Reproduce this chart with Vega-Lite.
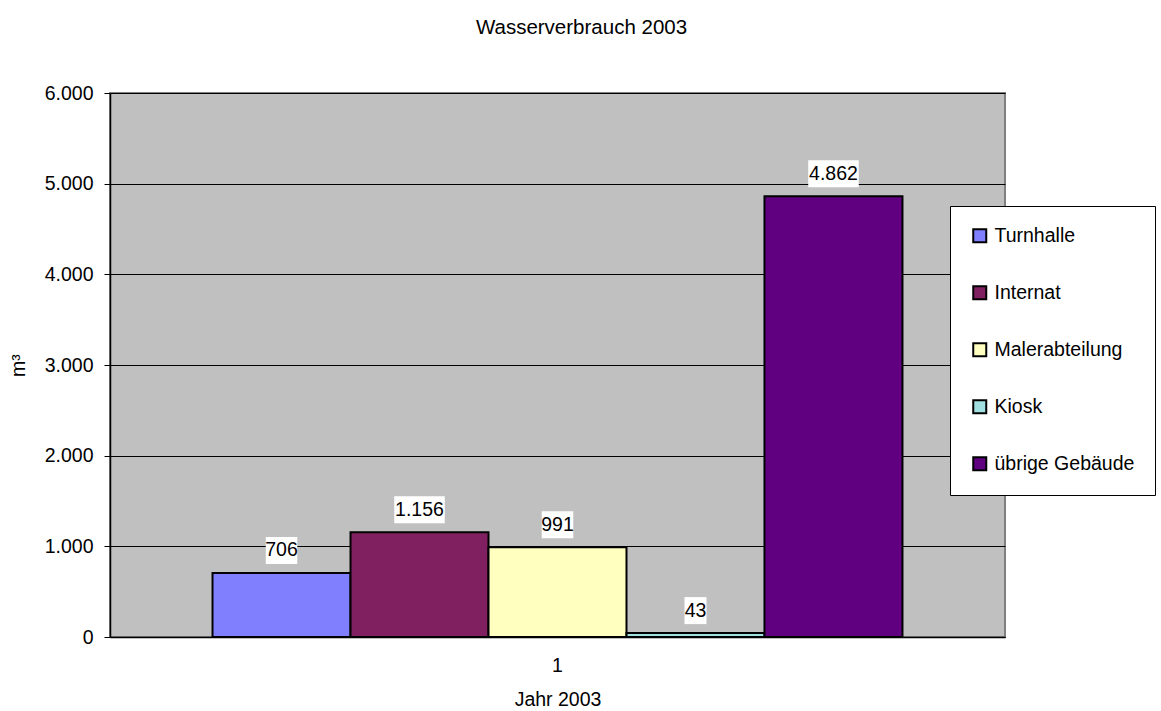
{
  "$schema": "https://vega.github.io/schema/vega-lite/v6.json",
  "width": 895,
  "height": 544,
  "autosize": {"type": "none"},
  "padding": {"left": 110, "top": 93, "right": 156, "bottom": 74},
  "background": "white",
  "title": {
    "text": "Wasserverbrauch 2003",
    "fontSize": 20.5,
    "fontWeight": "normal",
    "color": "black",
    "anchor": "middle",
    "frame": "group",
    "dx": 24,
    "offset": 45
  },
  "data": {
    "values": [
      {"jahr": "1", "kategorie": "Turnhalle", "wert": 706},
      {"jahr": "1", "kategorie": "Internat", "wert": 1156},
      {"jahr": "1", "kategorie": "Malerabteilung", "wert": 991},
      {"jahr": "1", "kategorie": "Kiosk", "wert": 43},
      {"jahr": "1", "kategorie": "übrige Gebäude", "wert": 4862}
    ]
  },
  "transform": [
    {"calculate": "replace(format(datum.wert, ',.0f'), ',', '.')", "as": "label"},
    {"calculate": "length(datum.label)", "as": "zeichen"}
  ],
  "encoding": {
    "x": {
      "field": "jahr",
      "type": "nominal",
      "scale": {"paddingInner": 0, "paddingOuter": 0.1486},
      "axis": {
        "title": "Jahr 2003",
        "labelAngle": 0,
        "ticks": false,
        "grid": false,
        "domainColor": "black",
        "domainWidth": 1.5,
        "labelFontSize": 19.5,
        "labelColor": "black",
        "labelPadding": 19,
        "titleFontSize": 19.5,
        "titleFontWeight": "normal",
        "titleColor": "black",
        "titlePadding": 16
      }
    },
    "xOffset": {
      "field": "kategorie",
      "type": "nominal",
      "sort": ["Turnhalle", "Internat", "Malerabteilung", "Kiosk", "übrige Gebäude"],
      "scale": {"paddingInner": 0, "paddingOuter": 0}
    },
    "y": {
      "field": "wert",
      "type": "quantitative",
      "scale": {"domain": [0, 6000]},
      "axis": {
        "title": "m³",
        "values": [0, 1000, 2000, 3000, 4000, 5000, 6000],
        "labelExpr": "replace(format(datum.value, ',.0f'), ',', '.')",
        "grid": true,
        "gridColor": "black",
        "gridWidth": 1,
        "gridOpacity": 1,
        "tickColor": "black",
        "tickSize": 6,
        "domainColor": "black",
        "domainWidth": 1.5,
        "labelFontSize": 19.5,
        "labelColor": "black",
        "labelPadding": 11,
        "titleFontSize": 19.5,
        "titleFontWeight": "normal",
        "titleColor": "black",
        "titlePadding": 16
      }
    }
  },
  "layer": [
    {
      "mark": {"type": "bar", "stroke": "black", "strokeWidth": 2},
      "encoding": {
        "color": {
          "field": "kategorie",
          "type": "nominal",
          "sort": ["Turnhalle", "Internat", "Malerabteilung", "Kiosk", "übrige Gebäude"],
          "scale": {
            "domain": ["Turnhalle", "Internat", "Malerabteilung", "Kiosk", "übrige Gebäude"],
            "range": ["#8080FF", "#802060", "#FFFFC0", "#A0E0E0", "#600080"]
          },
          "legend": {
            "title": null,
            "orient": "none",
            "legendX": 840,
            "legendY": 113,
            "fillColor": "white",
            "strokeColor": "black",
            "padding": 20,
            "symbolType": "square",
            "symbolSize": 169,
            "symbolStrokeColor": "black",
            "symbolStrokeWidth": 2,
            "symbolOpacity": 1,
            "labelFontSize": 19.5,
            "labelColor": "black",
            "labelOffset": 5,
            "rowPadding": 35
          }
        }
      }
    },
    {
      "mark": {
        "type": "bar",
        "color": "white",
        "yOffset": -36,
        "y2Offset": -9
      },
      "encoding": {
        "y2": {"field": "wert"},
        "size": {
          "field": "zeichen",
          "type": "quantitative",
          "scale": {"domain": [0, 5], "range": [3, 50.5]},
          "legend": null
        }
      }
    },
    {
      "mark": {
        "type": "text",
        "dy": -22.5,
        "baseline": "middle",
        "fontSize": 19.5,
        "color": "black"
      },
      "encoding": {"text": {"field": "label", "type": "nominal"}}
    }
  ],
  "config": {
    "font": "Liberation Sans",
    "view": {"stroke": "#808080", "strokeWidth": 2, "fill": "#C0C0C0"}
  }
}
